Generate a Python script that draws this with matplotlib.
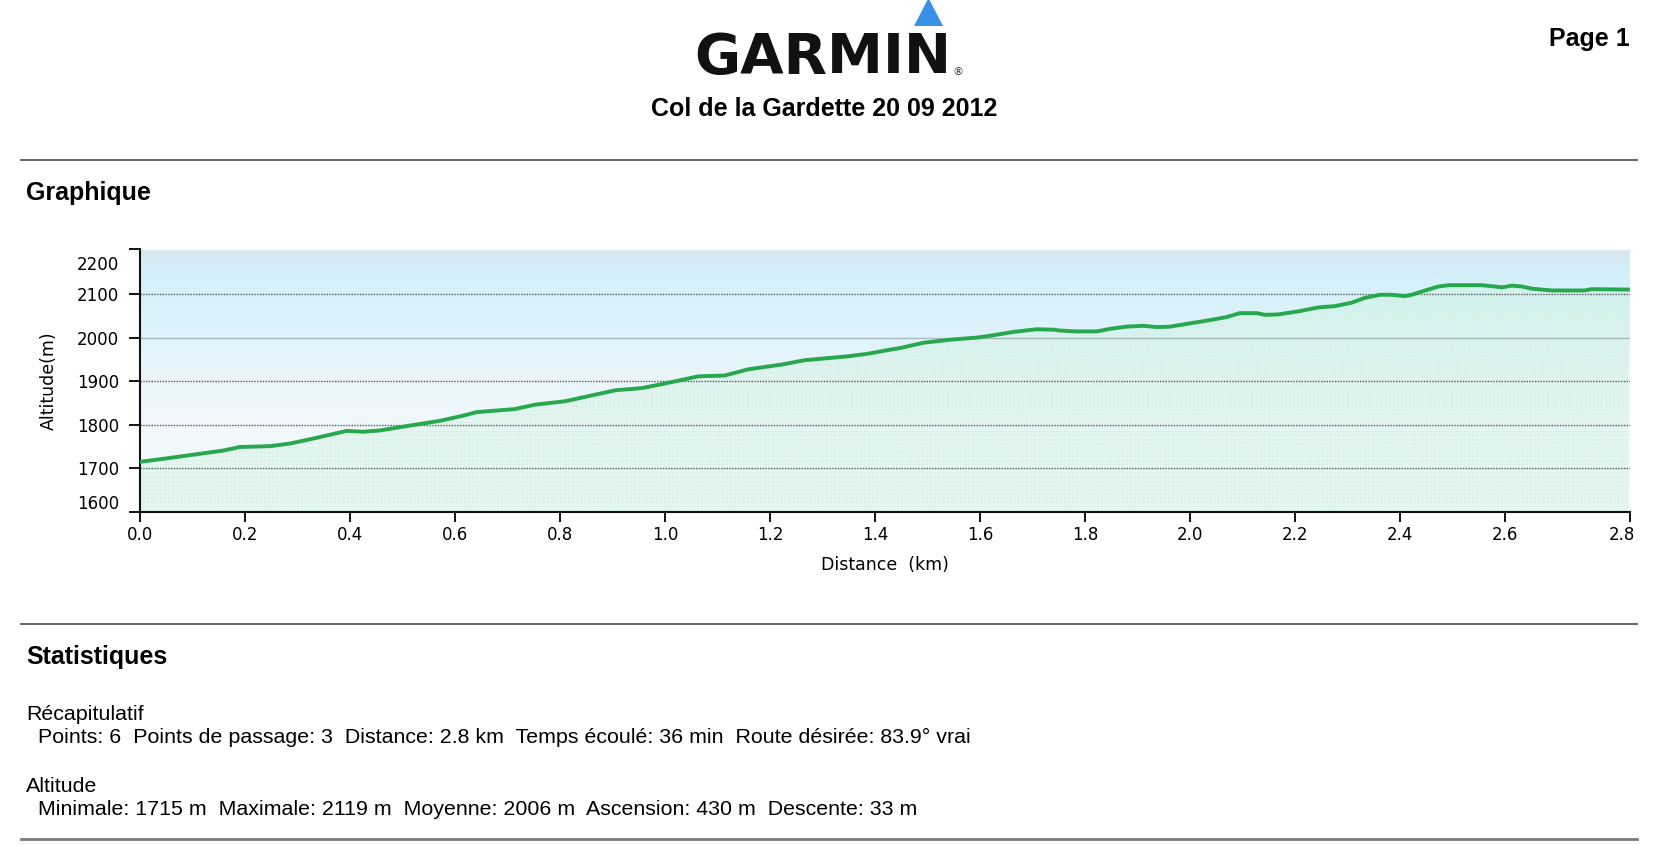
import numpy as np
import matplotlib.pyplot as plt
import matplotlib.transforms as mtransforms
from matplotlib.lines import Line2D
from matplotlib.patches import Polygon

# profile (km, m)
distance_km = [0.000, 0.063, 0.159, 0.190, 0.248, 0.286, 0.336, 0.394, 0.425, 0.457,
               0.508, 0.571, 0.616, 0.641, 0.714, 0.752, 0.810, 0.848, 0.905, 0.955,
               0.981, 1.025, 1.063, 1.114, 1.158, 1.222, 1.266, 1.349, 1.387, 1.428,
               1.448, 1.492, 1.543, 1.594, 1.619, 1.664, 1.708, 1.740, 1.752, 1.784,
               1.822, 1.848, 1.879, 1.911, 1.937, 1.962, 1.987, 2.038, 2.070, 2.095,
               2.127, 2.143, 2.168, 2.206, 2.244, 2.276, 2.308, 2.333, 2.362, 2.384,
               2.410, 2.422, 2.448, 2.473, 2.492, 2.556, 2.581, 2.594, 2.613, 2.632,
               2.651, 2.689, 2.752, 2.765, 2.834]
altitude_m = [1715, 1725, 1741, 1749, 1751, 1757, 1770, 1786, 1784, 1787,
              1797, 1809, 1821, 1829, 1836, 1846, 1854, 1864, 1879, 1884,
              1890, 1901, 1911, 1913, 1927, 1938, 1948, 1957, 1963, 1972,
              1976, 1988, 1995, 2000, 2004, 2013, 2019, 2018, 2016, 2014,
              2014, 2020, 2025, 2027, 2024, 2025, 2030, 2040, 2047, 2056,
              2056, 2052, 2053, 2060, 2069, 2072, 2080, 2091, 2098, 2098,
              2095, 2098, 2108, 2117, 2120, 2120, 2117, 2115, 2119, 2117,
              2112, 2108, 2108, 2111, 2110]

x_max = 2.838
y_min = 1600
y_max = 2203
x_ticks = [0.0, 0.2, 0.4, 0.6, 0.8, 1.0, 1.2, 1.4, 1.6, 1.8, 2.0, 2.2, 2.4, 2.6, x_max]
x_tick_labels = ['0.0', '0.2', '0.4', '0.6', '0.8', '1.0', '1.2', '1.4', '1.6', '1.8',
                 '2.0', '2.2', '2.4', '2.6', '2.8']
y_ticks = [1600, 1700, 1800, 1900, 2000, 2100, y_max]
y_tick_labels = ['1600', '1700', '1800', '1900', '2000', '2100', '2200']

title = 'Col de la Gardette 20 09 2012'
recap = '  Points: 6  Points de passage: 3  Distance: 2.8 km  Temps écoulé: 36 min  Route désirée: 83.9° vrai'
alti = '  Minimale: 1715 m  Maximale: 2119 m  Moyenne: 2006 m  Ascension: 430 m  Descente: 33 m'

W, H = 1678, 846
fig = plt.figure(figsize=(W / 100, H / 100), dpi=100)


def fx(px):
    return px / W


def fy(py):
    return 1 - py / H


sans = 'Liberation Sans'

# header
fig.text(fx(823), fy(73), 'GARMIN', fontsize=40.5, fontweight='bold', family='DejaVu Sans',
         ha='center', va='baseline', color='#111111')
fig.text(fx(958), fy(75), '®', fontsize=8, family='DejaVu Sans', ha='center',
         va='baseline', color='#333333')
tri = Polygon([(fx(914), fy(26)), (fx(943), fy(26)), (fx(928.5), fy(-2))],
              closed=True, transform=fig.transFigure, color='#3a8fe8', lw=0)
fig.add_artist(tri)
fig.text(fx(824), fy(116), title, fontsize=18, fontweight='bold', family=sans,
         ha='center', va='baseline')
fig.text(fx(1630), fy(46), 'Page 1', fontsize=18, fontweight='bold', family=sans,
         ha='right', va='baseline')

# section rules
for yy, c, w in [(160.5, '#5a5a5a', 1.3), (623.5, '#5a5a5a', 1.3), (839, '#7a7a7a', 2.0)]:
    fig.add_artist(Line2D([fx(21), fx(1637)], [fy(yy), fy(yy)], color=c, lw=w))

fig.text(fx(26), fy(200), 'Graphique', fontsize=18, fontweight='bold', family=sans, va='baseline')
fig.text(fx(26), fy(664), 'Statistiques', fontsize=18, fontweight='bold', family=sans, va='baseline')
fig.text(fx(26), fy(720), 'Récapitulatif', fontsize=15.4, family=sans, va='baseline')
fig.text(fx(26), fy(743), recap, fontsize=15.4, family=sans, va='baseline')
fig.text(fx(26), fy(792), 'Altitude', fontsize=15.4, family=sans, va='baseline')
fig.text(fx(26), fy(815), alti, fontsize=15.4, family=sans, va='baseline')

# chart
ax = fig.add_axes([fx(140), fy(512), (1630 - 140) / W, (512 - 249) / H])

stop_y = [y_max, 2198, 2185, 2160, 2120, 2000, 1900, 1800, 1600]
stop_c = ['#eef5f8', '#d9e8ef', '#d6e9f1', '#d4eff9', '#d5f1fc', '#e0f3fb', '#eaf6fc', '#f0f8fc', '#f3f9fc']
rgb = np.array([[int(c[i:i + 2], 16) / 255 for i in (1, 3, 5)] for c in stop_c])
yy = np.linspace(y_max, y_min, 400)
grad = np.stack([np.interp(yy, stop_y[::-1], rgb[::-1, k]) for k in range(3)], axis=-1)
ax.imshow(grad[:, None, :], extent=[0, x_max, y_min, y_max], aspect='auto', origin='upper', zorder=0)

plt.rcParams['hatch.linewidth'] = 0.4
ax.fill_between(distance_km, altitude_m, y_min, color='#c2f2d6', alpha=0.22, lw=0, zorder=1)
ax.fill_between(distance_km, altitude_m, y_min, facecolor='none', edgecolor='#d6f1e2',
                hatch='++++', lw=0, zorder=1)

for g in [1700, 1800, 1900, 2100]:
    ax.axhline(g, color='#555555', lw=1.0, ls=(0, (1, 1)), zorder=2)
ax.axhline(2000, color='#adb8bc', lw=1.0, zorder=2)

ax.plot(distance_km, altitude_m, color='#28a84c', lw=2.8, zorder=3, solid_joinstyle='round')

ax.set_xlim(0, x_max)
ax.set_ylim(y_min, y_max)
ax.set_xticks(x_ticks)
ax.set_xticklabels(x_tick_labels)
ax.set_yticks(y_ticks)
ax.set_yticklabels(y_tick_labels)
ax.tick_params(axis='x', length=7, width=1.3, labelsize=12, pad=3)
ax.tick_params(axis='y', length=8, width=1.3, labelsize=12, pad=7)
for s in ['top', 'right']:
    ax.spines[s].set_visible(False)
for s in ['left', 'bottom']:
    ax.spines[s].set_linewidth(1.5)
    ax.spines[s].set_color('#111111')

ax.set_xlabel('Distance  (km)', fontsize=12.5, labelpad=9)
ax.set_ylabel('Altitude(m)', fontsize=12.5, labelpad=14)

ylabs = ax.get_yticklabels()
ylabs[0].set_transform(ylabs[0].get_transform() + mtransforms.ScaledTranslation(0, 0.10, fig.dpi_scale_trans))
ylabs[-1].set_transform(ylabs[-1].get_transform() + mtransforms.ScaledTranslation(0, -0.14, fig.dpi_scale_trans))
xlabs = ax.get_xticklabels()
xlabs[-1].set_transform(xlabs[-1].get_transform() + mtransforms.ScaledTranslation(-0.08, 0, fig.dpi_scale_trans))

plt.savefig('out.png', dpi=100)
